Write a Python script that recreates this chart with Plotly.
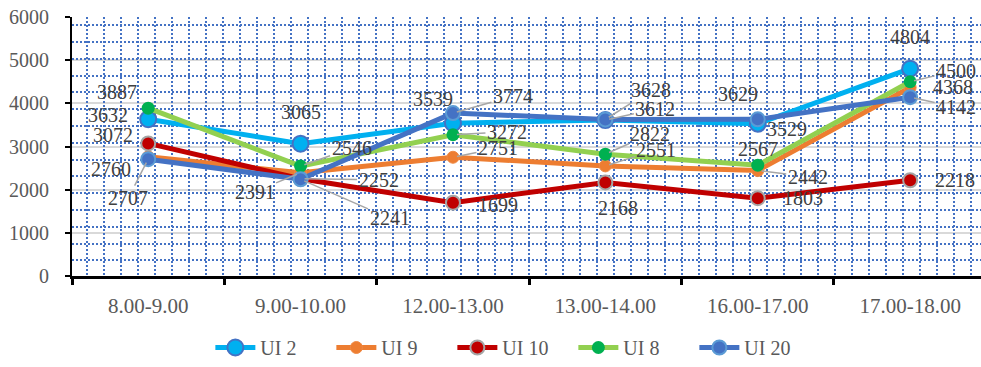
import plotly.graph_objects as go

# ---------------- data ----------------
categories = ["8.00-9.00", "9.00-10.00", "12.00-13.00", "13.00-14.00", "16.00-17.00", "17.00-18.00"]
series_names = ["UI 2", "UI 9", "UI 10", "UI 8", "UI 20"]
ui2 = [3632, 3065, 3539, 3612, 3529, 4804]
ui9 = [2760, 2391, 2751, 2551, 2442, 4368]
ui10 = [3072, 2252, 1699, 2168, 1803, 2218]
ui8 = [3887, 2546, 3272, 2822, 2567, 4500]
ui20 = [2707, 2241, 3774, 3628, 3629, 4142]
y_ticks = [0, 1000, 2000, 3000, 4000, 5000, 6000]

# ---------------- styles ----------------
styles = {
    "UI 2": dict(line="#00B0F0", fill="#00B0F0", edge="#4472C4", ew=2, size=16),
    "UI 9": dict(line="#ED7D31", fill="#ED7D31", edge="#F08A45", ew=1, size=12),
    "UI 10": dict(line="#C00000", fill="#C00000", edge="#A5A5A5", ew=2, size=14),
    "UI 8": dict(line="#92D050", fill="#00B050", edge="#00B050", ew=0, size=13),
    "UI 20": dict(line="#4472C4", fill="#4472C4", edge="#5B9BD5", ew=2, size=14),
}
# label offsets in pixels (dx, dy, leader line)
label_offsets = {
    "UI 2": [(-40, -4, False), (0, -32, False), (-20, -24, False), (50, -11, True), (29, 5, False), (0, -32, False)],
    "UI 9": [(-37, 12, False), (-46, 19, True), (45, -9, True), (51, -16, True), (50, 6, True), (43, 0, False)],
    "UI 10": [(-35, -8, False), (78, 1, True), (45, 2, False), (13, 26, False), (45, 0, False), (45, 0, False)],
    "UI 8": [(-31, -16, False), (51, -18, True), (54, -3, True), (45, -20, True), (0, -16, False), (46, -11, True)],
    "UI 20": [(-20, 39, True), (89, 39, True), (60, -17, True), (46, -29, True), (-20, -25, False), (46, 10, True)],
}
values = {"UI 2": ui2, "UI 9": ui9, "UI 10": ui10, "UI 8": ui8, "UI 20": ui20}

FONT = "Liberation Serif, Times New Roman, serif"
DOT = "#4472C4"

fig = go.Figure()

# helper (empty) trace that carries the dotted pattern grid axes
fig.add_trace(go.Scatter(x=[], y=[], xaxis="x2", yaxis="y2", showlegend=False, hoverinfo="skip"))

for name in series_names:
    s = styles[name]
    fig.add_trace(go.Scatter(
        x=categories, y=values[name], name=name, mode="lines+markers",
        line=dict(color=s["line"], width=5),
        marker=dict(color=s["fill"], size=s["size"], line=dict(color=s["edge"], width=s["ew"])),
    ))

annotations = []
for name in series_names:
    for cat, v, (dx, dy, leader) in zip(categories, values[name], label_offsets[name]):
        a = dict(x=cat, y=v, xref="x", yref="y", text=str(v),
                 font=dict(family=FONT, size=20, color="#404040"))
        if leader:
            a.update(showarrow=True, ax=dx, ay=dy, arrowhead=0, arrowwidth=1.5,
                     arrowcolor="#A6A6A6", standoff=4)
        else:
            a.update(showarrow=False, xshift=dx, yshift=-dy)
        annotations.append(a)

fig.update_layout(
    width=981, height=367,
    margin=dict(l=72, r=0, t=17, b=88),
    plot_bgcolor="white", paper_bgcolor="white",
    font=dict(family=FONT, size=20, color="#595959"),
    annotations=annotations,
    legend=dict(orientation="h", x=0.485, xanchor="center", y=-0.277, yanchor="middle",
                font=dict(family=FONT, size=20, color="#595959"),
                entrywidth=66, entrywidthmode="pixels", itemwidth=40),
    xaxis=dict(type="category", categoryorder="array", categoryarray=categories,
               range=[-0.5, 5.465], tickson="boundaries", ticks="outside", ticklen=6,
               tickwidth=3, tickcolor="black", showline=True, linecolor="black", linewidth=3,
               showgrid=False, zeroline=False, automargin=False,
               tickfont=dict(family=FONT, size=21, color="#595959"), ticklabelstandoff=9),
    xaxis2=dict(overlaying="x", anchor="y2", range=[0, 909], showgrid=True,
                gridcolor=DOT, griddash="2px,2px", gridwidth=2,
                tick0=14.7, dtick=17, showticklabels=False, ticks="", showline=False,
                zeroline=False, automargin=False),
    yaxis2=dict(overlaying="y", anchor="x2", range=[0, 262], showgrid=True,
                gridcolor=DOT, griddash="2px,2px", gridwidth=2,
                tick0=15.8, dtick=17, showticklabels=False, ticks="", showline=False,
                zeroline=False, automargin=False),
    yaxis=dict(range=[0, 6000], tickvals=y_ticks, showgrid=True, gridcolor="#D9D9D9", gridwidth=2,
               showline=True, linecolor="black", linewidth=2, ticks="outside", ticklen=5,
               tickwidth=2, tickcolor="black", zeroline=False, automargin=False,
               tickfont=dict(family=FONT, size=20, color="#595959"), ticklabelstandoff=12),
)

fig.write_html("out.html", config={"displayModeBar": False},
               post_script="document.body.style.margin='0';document.body.style.overflow='hidden';")
